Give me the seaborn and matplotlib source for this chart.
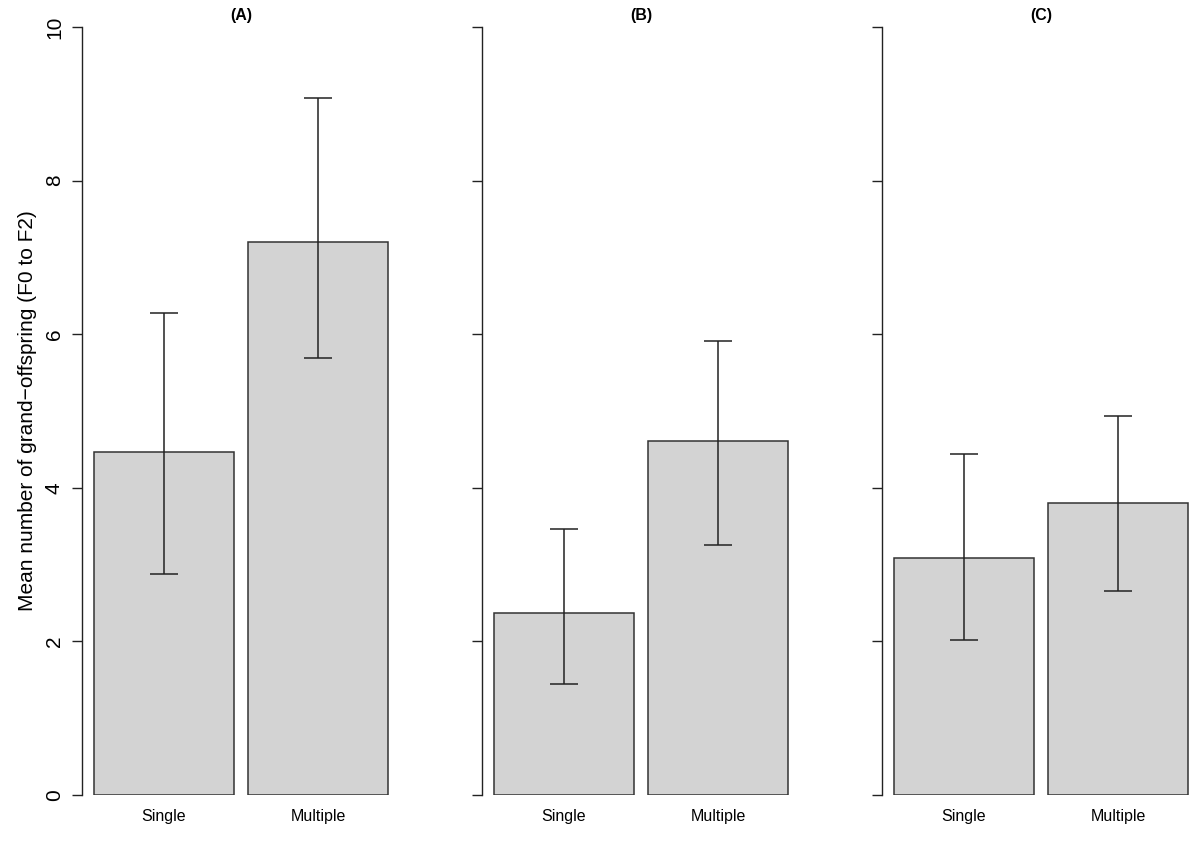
import matplotlib
matplotlib.use("Agg")
import matplotlib.pyplot as plt
import seaborn as sns
import pandas as pd

sns.set_style("white")
plt.rcParams['font.family'] = ['Liberation Sans', 'DejaVu Sans']
plt.rcParams['text.color'] = 'black'
plt.rcParams['axes.labelcolor'] = 'black'
plt.rcParams['xtick.color'] = 'black'
plt.rcParams['ytick.color'] = 'black'

categories = ["Single", "Multiple"]
panels = ["(A)", "(B)", "(C)"]
means_A = [4.46, 7.20]
means_B = [2.37, 4.61]
means_C = [3.08, 3.80]
lower_A = [2.88, 5.69]
upper_A = [6.28, 9.08]
lower_B = [1.44, 3.26]
upper_B = [3.46, 5.91]
lower_C = [2.02, 2.66]
upper_C = [4.44, 4.93]
yticks = [0, 2, 4, 6, 8, 10]
ylabel = "Mean number of grand\u2212offspring (F0 to F2)"

means = [means_A, means_B, means_C]
lowers = [lower_A, lower_B, lower_C]
uppers = [upper_A, upper_B, upper_C]

W, H = 1200, 849
fig = plt.figure(figsize=(12, 8.49), dpi=100)
lefts = [82, 482, 882]
bottom = 1 - 795 / H
height = 768 / H
width = 318 / W

for i, (title, m, lo, up) in enumerate(zip(panels, means, lowers, uppers)):
    ax = fig.add_axes([lefts[i] / W, bottom, width, height])
    df = pd.DataFrame({"group": categories, "value": m})
    sns.barplot(data=df, x="group", y="value", ax=ax, color="#d3d3d3",
                saturation=1, width=0.909, edgecolor="#333333", linewidth=1.1)
    xs = range(len(categories))
    yerr = [[mm - l for mm, l in zip(m, lo)], [u - mm for mm, u in zip(m, up)]]
    ax.errorbar(list(xs), m, yerr=yerr, fmt="none", ecolor="#222222",
                elinewidth=1.1, capsize=10.3, capthick=1.1)
    ax.set_xlim(-0.531, 1.531)
    ax.set_ylim(0, 10)
    ax.set_yticks(yticks)
    for s in ["top", "right", "bottom"]:
        ax.spines[s].set_visible(False)
    ax.spines["left"].set_color("#222222")
    ax.spines["left"].set_linewidth(1.0)
    ax.spines["left"].set_bounds(0, 10)
    ax.tick_params(axis="y", direction="out", length=7, width=1.0, color="#222222",
                   left=True, labelsize=15, pad=6, labelcolor="black")
    ax.tick_params(axis="x", length=0, labelsize=11.5, pad=10, labelcolor="black")
    ax.set_xlabel("")
    if i == 0:
        ax.set_yticklabels([str(t) for t in yticks], rotation=90, va="center")
        ax.set_ylabel(ylabel, fontsize=15, labelpad=6, color="black")
    else:
        ax.set_yticklabels([])
        ax.set_ylabel("")
    ax.set_title(title, fontsize=11.5, fontweight="bold", pad=5, color="black")

fig.savefig("out.png", dpi=100)
